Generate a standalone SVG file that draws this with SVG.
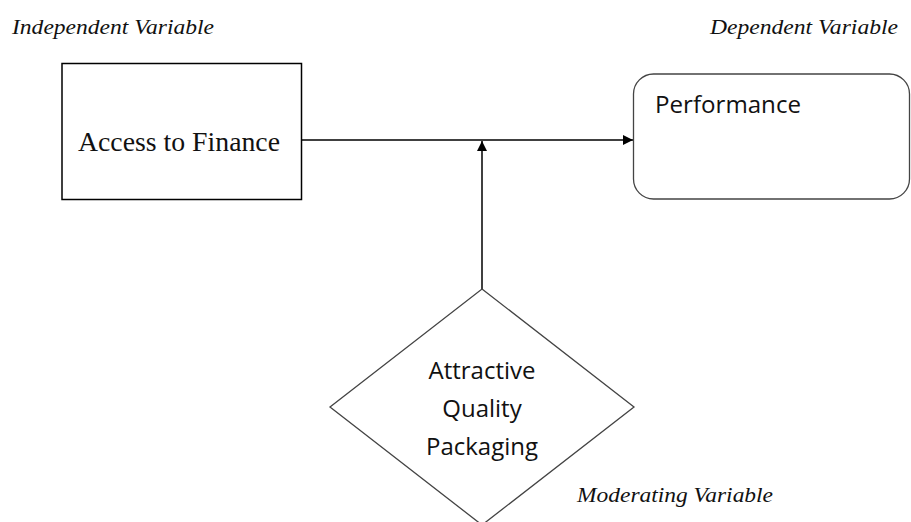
<svg xmlns="http://www.w3.org/2000/svg" width="911" height="522" viewBox="0 0 911 522">
  <style>
    .box { fill: #ffffff; stroke: #000000; stroke-width: 1.5; }
    .soft { fill: #ffffff; stroke: #444444; stroke-width: 1.3; }
    .conn { stroke: #000000; stroke-width: 1.5; fill: none; }
    .tag { font-family: "Liberation Serif", serif; font-style: italic; font-size: 20.5px; fill: #111111; }
    .serif { font-family: "Liberation Serif", serif; font-size: 27px; fill: #111111; }
    .sans { font-family: "Open Sans", "Liberation Sans", sans-serif; font-size: 24px; fill: #111111; }
  </style>
  <defs>
    <marker id="arrow" viewBox="0 0 10 10" refX="10" refY="5" markerWidth="10" markerHeight="10" markerUnits="userSpaceOnUse" orient="auto">
      <path d="M0,0 L10,5 L0,10 z" fill="#000000"/>
    </marker>
  </defs>
  <rect width="911" height="522" fill="#ffffff"/>

  <!-- variable type labels -->
  <text class="tag" x="12" y="34" textLength="202" lengthAdjust="spacingAndGlyphs">Independent Variable</text>
  <text class="tag" x="710" y="34" textLength="188" lengthAdjust="spacingAndGlyphs">Dependent Variable</text>
  <text class="tag" x="577" y="502" textLength="196" lengthAdjust="spacingAndGlyphs">Moderating Variable</text>

  <!-- connectors -->
  <g id="connectors">
    <line class="conn" x1="301" y1="140" x2="633" y2="140" marker-end="url(#arrow)"/>
    <line class="conn" x1="482" y1="289" x2="482" y2="141" marker-end="url(#arrow)"/>
  </g>

  <g id="access-to-finance">
    <rect class="box" x="62" y="63.5" width="239.5" height="136"/>
    <text class="serif" x="78" y="151" textLength="202" lengthAdjust="spacingAndGlyphs">Access to Finance</text>
  </g>

  <g id="performance">
    <rect class="soft" x="633.5" y="74" width="276" height="125" rx="20" ry="20"/>
    <text class="sans" x="655" y="113" font-size="23.5" textLength="146" lengthAdjust="spacingAndGlyphs">Performance</text>
  </g>

  <g id="attractive-quality-packaging">
    <polygon class="soft" points="482,289 634,407 482,525 330,407"/>
    <text class="sans" x="482" y="379" text-anchor="middle">Attractive</text>
    <text class="sans" x="482" y="417" text-anchor="middle">Quality</text>
    <text class="sans" x="482" y="455" text-anchor="middle">Packaging</text>
  </g>
</svg>
